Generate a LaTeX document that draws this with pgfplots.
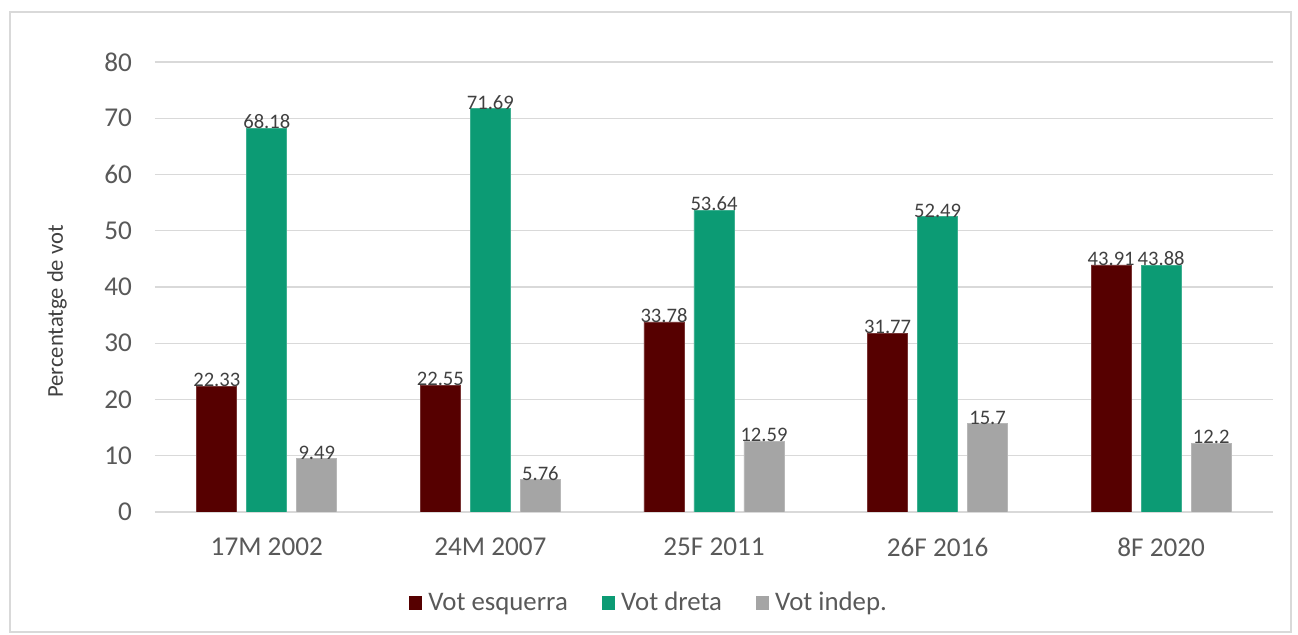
\documentclass[border=0pt]{standalone}
\usepackage{pgfplots}
\pgfplotsset{compat=1.18}
\usepackage{fontspec}
\setmainfont{Carlito}
\definecolor{cEsq}{HTML}{560000}
\definecolor{cDre}{HTML}{0C9B74}
\definecolor{cInd}{HTML}{A5A5A5}
\definecolor{cGrid}{HTML}{D9D9D9}
\definecolor{cText}{HTML}{595959}
\definecolor{cLab}{HTML}{404040}
\definecolor{cFrame}{HTML}{D9D9D9}
\begin{document}
\begin{tikzpicture}
\path (0pt,0pt) rectangle (649pt,317.5pt);
\draw[cFrame, line width=0.7pt] (5pt,1.5pt) rectangle (645.5pt,311.5pt);
\begin{axis}[
  at={(77.5pt,61.5pt)}, anchor=south west,
  scale only axis, width=559pt, height=225pt,
  ybar=5pt, bar width=20pt,
  xmin=-0.5, xmax=4.5, ymin=0, ymax=80,
  xtick={0,1,2,3,4},
  xticklabels={17M 2002,24M 2007,25F 2011,26F 2016,8F 2020},
  ytick={0,10,...,80},
  ymajorgrids, grid style={cGrid, line width=0.7pt},
  axis line style={draw=none},
  major tick length=0pt,
  /pgf/number format/assume math mode=true,
  tick label style={cText, font=\fontsize{13.6}{16}\selectfont},
  xticklabel style={yshift=-9.5pt},
  yticklabel style={xshift=-8pt},
  ylabel={Percentatge de vot},
  ylabel style={at={(axis description cs:-0.0877,0.4456)}, anchor=center, font=\fontsize{11.3}{13}\selectfont, text=cLab},
  nodes near coords,
  nodes near coords style={font=\fontsize{10.3}{12}\selectfont, text=cLab, anchor=south, inner sep=0.5pt, yshift=-1pt},
  legend columns=3,
  legend style={draw=none, fill=none, at={(0.4428,-0.2022)}, anchor=center,
     font=\fontsize{13.4}{16}\selectfont, text=cText,
     /tikz/every odd column/.append style={column sep=1pt},
     /tikz/every even column/.append style={column sep=15pt}},
  legend image code/.code={\path[#1, draw=none] (0pt,-3.3pt) rectangle (6.6pt,3.3pt);},
]
\addplot[fill=cEsq, draw=cEsq!80!white] coordinates {(0,22.33) (1,22.55) (2,33.78) (3,31.77) (4,43.91)};
\addplot[fill=cDre, draw=cDre!80!white] coordinates {(0,68.18) (1,71.69) (2,53.64) (3,52.49) (4,43.88)};
\addplot[fill=cInd, draw=cInd!80!white] coordinates {(0,9.49) (1,5.76) (2,12.59) (3,15.7) (4,12.2)};
\legend{Vot esquerra, Vot dreta, Vot indep.}
\end{axis}
\end{tikzpicture}
\end{document}
